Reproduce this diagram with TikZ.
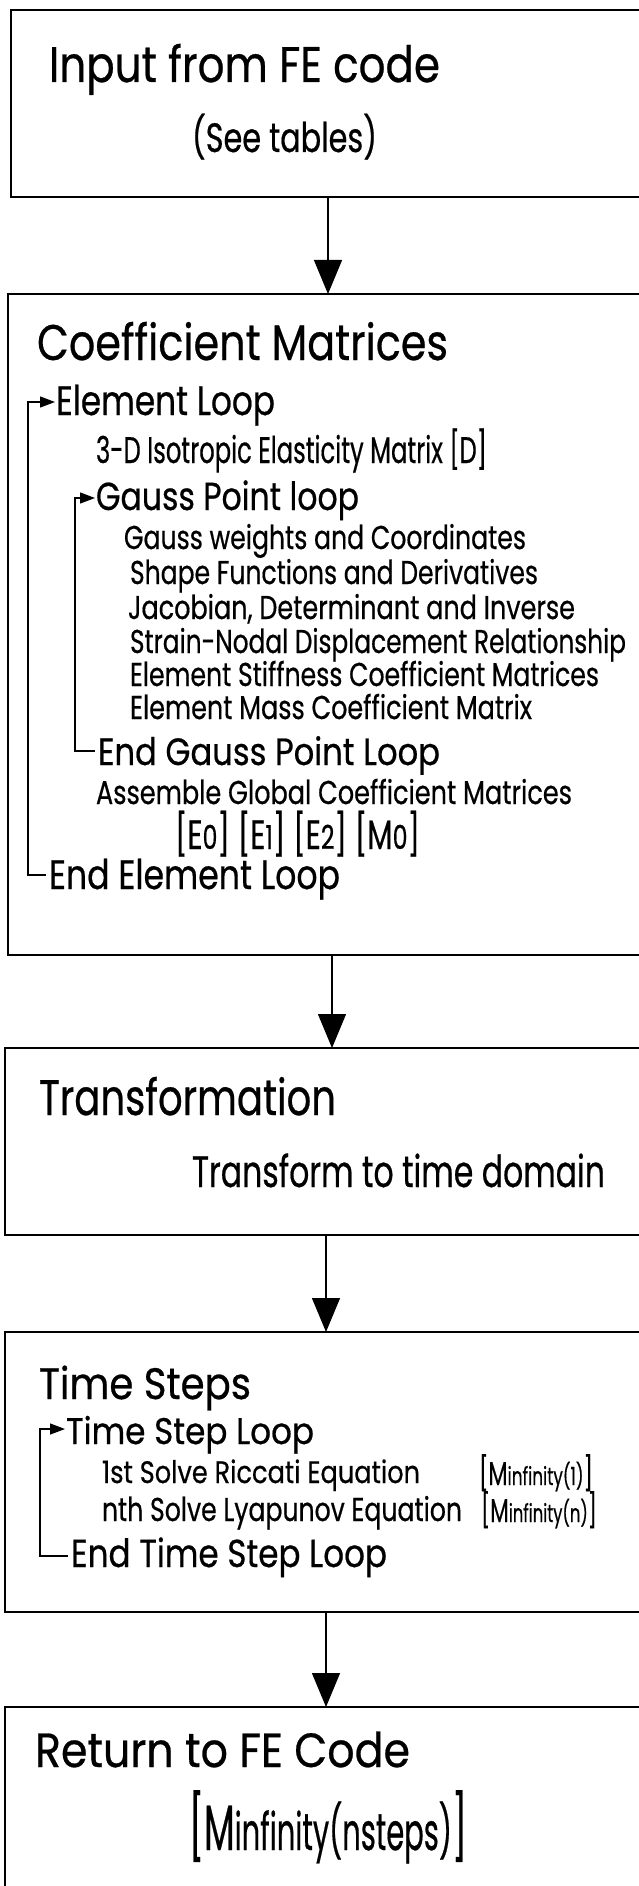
\documentclass[tikz,border=0pt]{standalone}
\usepackage{fontspec}
\setmainfont{Poppins}[FakeBold=0.6]
\usepackage{graphicx}
\usetikzlibrary{arrows.meta}

% font size helper and a horizontal fit that keeps the height
\newcommand\fsz[1]{\fontsize{#1}{#1}\selectfont}
\newcommand\fitw[2]{\resizebox{#1}{\height}{#2}}

\begin{document}
\begin{tikzpicture}[x=1pt,y=-1pt,
  boxst/.style={draw, line width=2pt, anchor=north west, inner sep=0pt, outer sep=0pt},
  txt/.style={anchor=base west, inner sep=0pt, outer sep=0pt},
  flow/.style={line width=1.3pt, -{Triangle[length=34pt,width=28pt]}},
  looparr/.style={line width=1.3pt, -{Triangle[length=15pt,width=11pt]}}]

\useasboundingbox (0,0) rectangle (639,1886);
\fill[white] (0,0) rectangle (639,1886);
\clip (0,0) rectangle (639,1886);

% process boxes (they run on past the right edge)
\node[boxst, minimum width=700pt, minimum height=187pt] (b1) at (11,10) {};
\node[boxst, minimum width=700pt, minimum height=661pt] (b2) at (8,294) {};
\node[boxst, minimum width=700pt, minimum height=187pt] (b3) at (5,1048) {};
\node[boxst, minimum width=700pt, minimum height=280pt] (b4) at (5,1332) {};
\node[boxst, minimum width=700pt, minimum height=300pt] (b5) at (5,1707) {};

% box 1
\node[txt] (t1) at (49,82) {\fsz{50pt}\fitw{391pt}{Input from FE code}};
\node[txt] (t2) at (192,152) {\fsz{41pt}\fitw{185pt}{(See tables)}};

% box 2
\node[txt] (t3) at (37,360) {\fsz{50pt}\fitw{411pt}{Coefficient Matrices}};
\node[txt] (t4) at (56,415) {\fsz{41pt}\fitw{219pt}{Element Loop}};
\node[txt] (t5) at (96,463) {\fsz{37pt}\fitw{391pt}{3-D Isotropic Elasticity Matrix [D]}};
\node[txt] (t6) at (96,510) {\fsz{39pt}\fitw{263pt}{Gauss Point loop}};
\node[txt] (t7) at (124,549) {\fsz{33pt}\fitw{402pt}{Gauss weights and Coordinates}};
\node[txt] (t8) at (130,584) {\fsz{33pt}\fitw{408pt}{Shape Functions and Derivatives}};
\node[txt] (t9) at (128,619) {\fsz{33pt}\fitw{447pt}{Jacobian, Determinant and Inverse}};
\node[txt] (t10) at (130,653) {\fsz{33pt}\fitw{496pt}{Strain-Nodal Displacement Relationship}};
\node[txt] (t11) at (130,686) {\fsz{33pt}\fitw{469pt}{Element Stiffness Coefficient Matrices}};
\node[txt] (t12) at (130,719) {\fsz{33pt}\fitw{402pt}{Element Mass Coefficient Matrix}};
\node[txt] (t13) at (98,765) {\fsz{38pt}\fitw{342pt}{End Gauss Point Loop}};
\node[txt] (t14) at (96,804) {\fsz{33pt}\fitw{476pt}{Assemble Global Coefficient Matrices}};
\node[txt] (t15) at (175,849) {\fsz{41pt}\fitw{245pt}{[E{\fsz{33pt}0}] [E{\fsz{33pt}1}] [E{\fsz{33pt}2}] [M{\fsz{33pt}0}]}};
\node[txt] (t16) at (49,889) {\fsz{41pt}\fitw{291pt}{End Element Loop}};

% box 3
\node[txt] (t17) at (39,1115) {\fsz{50pt}\fitw{297pt}{Transformation}};
\node[txt] (t18) at (192,1187) {\fsz{44pt}\fitw{413pt}{Transform to time domain}};

% box 4
\node[txt] (t19) at (39,1399) {\fsz{44pt}\fitw{212pt}{Time Steps}};
\node[txt] (t20) at (66,1444) {\fsz{37pt}\fitw{248pt}{Time Step Loop}};
\node[txt] (t21) at (102,1483) {\fsz{31pt}\fitw{318pt}{1st Solve Riccati Equation}};
\node[txt] (t22) at (479,1485) {\fsz{33pt}\fitw{114pt}{[M{\fsz{25pt}infinity(1)}]}};
\node[txt] (t23) at (102,1521) {\fsz{33pt}\fitw{360pt}{nth Solve Lyapunov Equation}};
\node[txt] (t24) at (481,1522) {\fsz{33pt}\fitw{116pt}{[M{\fsz{25pt}infinity(n)}]}};
\node[txt] (t25) at (71,1567) {\fsz{39pt}\fitw{316pt}{End Time Step Loop}};

% box 5
\node[txt] (t26) at (35,1767) {\fsz{48pt}\fitw{375pt}{Return to FE Code}};
\node[txt] (t27) at (189,1850) {\fsz{64pt}\fitw{278pt}{[M{\fsz{52pt}infinity(nsteps)}]}};

% connectors between boxes
\coordinate (a1) at (328,0);
\coordinate (a2) at (332,0);
\coordinate (a3) at (326,0);
\coordinate (a4) at (326,0);
\draw[flow] (b1.south -| a1) -- (b2.north -| a1);
\draw[flow] (b2.south -| a2) -- (b3.north -| a2);
\draw[flow] (b3.south -| a3) -- (b4.north -| a3);
\draw[flow] (b4.south -| a4) -- (b5.north -| a4);

% element loop
\coordinate (ex) at (28,0);
\coordinate (elTop) at ([xshift=-1pt,yshift=13pt]t4.base west);
\coordinate (elBot) at ([xshift=-3pt,yshift=14pt]t16.base west);
\draw[looparr] (elBot) -| (ex |- elTop) -- (elTop);

% gauss point loop
\coordinate (gx) at (75,0);
\coordinate (gpTop) at ([xshift=-1pt,yshift=12pt]t6.base west);
\coordinate (gpBot) at ([xshift=-3pt,yshift=14pt]t13.base west);
\draw[looparr] (gpBot) -| (gx |- gpTop) -- (gpTop);

% time step loop
\coordinate (tx) at (40,0);
\coordinate (tsTop) at ([xshift=-1pt,yshift=15pt]t20.base west);
\coordinate (tsBot) at ([xshift=-3pt,yshift=11pt]t25.base west);
\draw[looparr] (tsBot) -| (tx |- tsTop) -- (tsTop);

\end{tikzpicture}
\end{document}
